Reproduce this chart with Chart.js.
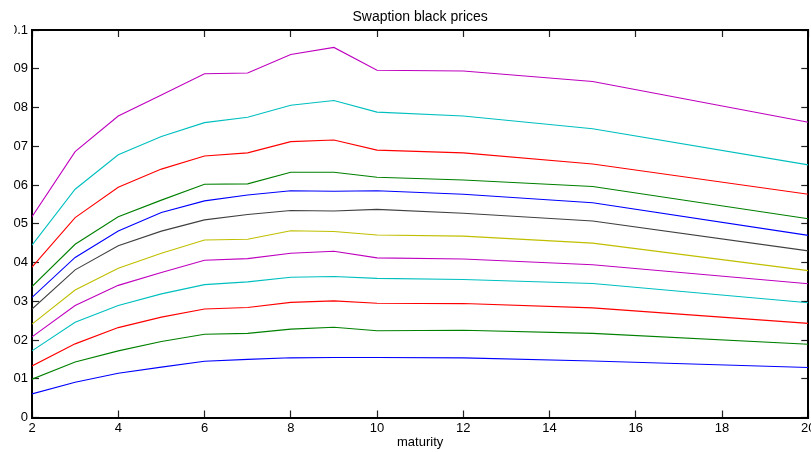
<!DOCTYPE html>
<html>
<head>
<meta charset="utf-8">
<script src="https://cdn.jsdelivr.net/npm/chart.js@4/dist/chart.umd.min.js"></script>
<style>
  html, body { margin: 0; padding: 0; background: #fff; overflow: hidden; width: 811px; height: 452px; }
  #wrap { position: absolute; left: 14px; top: 0; width: 797px; height: 452px; overflow: hidden; }
  #c { position: absolute; left: -34px; top: 0; }
</style>
</head>
<body>
<div id="wrap"><canvas id="c" width="846" height="452" style="width:846px;height:452px"></canvas></div>
<script>
const maturities = [2, 3, 4, 5, 6, 7, 8, 9, 10, 12, 15, 20];
const xTicks = [2, 4, 6, 8, 10, 12, 14, 16, 18, 20];
const yTicks = [0, 0.01, 0.02, 0.03, 0.04, 0.05, 0.06, 0.07, 0.08, 0.09, 0.1];

const s1  = [0.0061, 0.0091, 0.0114, 0.0130, 0.0145, 0.0150, 0.0154, 0.0155, 0.0155, 0.0154, 0.0146, 0.0129];
const s2  = [0.0099, 0.0143, 0.0172, 0.0196, 0.0215, 0.0217, 0.0228, 0.0233, 0.0224, 0.0225, 0.0217, 0.0189];
const s3  = [0.0133, 0.0190, 0.0232, 0.0259, 0.0280, 0.0284, 0.0297, 0.0301, 0.0295, 0.0294, 0.0283, 0.0243];
const s4  = [0.0172, 0.0246, 0.0289, 0.0319, 0.0343, 0.0350, 0.0362, 0.0364, 0.0359, 0.0356, 0.0346, 0.0296];
const s5  = [0.0208, 0.0289, 0.0341, 0.0374, 0.0406, 0.0410, 0.0424, 0.0429, 0.0412, 0.0409, 0.0394, 0.0345];
const s6  = [0.0241, 0.0329, 0.0385, 0.0424, 0.0458, 0.0460, 0.0482, 0.0480, 0.0471, 0.0468, 0.0450, 0.0379];
const s7  = [0.0280, 0.0381, 0.0443, 0.0481, 0.0510, 0.0524, 0.0534, 0.0533, 0.0537, 0.0527, 0.0507, 0.0430];
const s8  = [0.0310, 0.0413, 0.0481, 0.0529, 0.0559, 0.0574, 0.0585, 0.0584, 0.0585, 0.0576, 0.0554, 0.0470];
const s9  = [0.0338, 0.0447, 0.0518, 0.0561, 0.0602, 0.0603, 0.0633, 0.0633, 0.0620, 0.0613, 0.0596, 0.0513];
const s10 = [0.0388, 0.0516, 0.0594, 0.0641, 0.0675, 0.0683, 0.0712, 0.0716, 0.0690, 0.0683, 0.0654, 0.0576];
const s11 = [0.0445, 0.0589, 0.0678, 0.0725, 0.0761, 0.0775, 0.0806, 0.0818, 0.0788, 0.0778, 0.0745, 0.0652];
const s12 = [0.0518, 0.0686, 0.0778, 0.0832, 0.0887, 0.0889, 0.0937, 0.0955, 0.0896, 0.0894, 0.0867, 0.0762];

const seriesList = [s1, s2, s3, s4, s5, s6, s7, s8, s9, s10, s11, s12];
const colors = ['#0000ff', '#008000', '#ff0000', '#00bfbf', '#bf00bf', '#bfbf00', '#404040',
                '#0000ff', '#008000', '#ff0000', '#00bfbf', '#bf00bf'];

Chart.defaults.font.family = '"Liberation Sans", Arial, Helvetica, sans-serif';
Chart.defaults.font.size = 13;
Chart.defaults.color = '#000';

const datasets = seriesList.map((s, i) => ({
  label: 'series ' + (i + 1),
  data: maturities.map((m, j) => ({ x: m, y: s[j] })),
  borderColor: colors[i],
  backgroundColor: colors[i],
  borderWidth: 1.1,
  pointRadius: 0,
  tension: 0,
  fill: false
}));

const TL = -7;
const gridCommon = { drawOnChartArea: false, drawTicks: true, tickLength: TL, tickColor: '#222', tickWidth: 1.2 };
const borderCommon = { display: true, color: '#000', width: 2 };

new Chart(document.getElementById('c'), {
  type: 'line',
  data: { datasets },
  options: {
    responsive: false,
    devicePixelRatio: 1,
    animation: false,
    layout: { padding: { left: 0, right: 10, top: 0, bottom: 0 } },
    plugins: {
      legend: { display: false },
      tooltip: { enabled: false },
      title: {
        display: true,
        text: 'Swaption black prices',
        fullSize: false,
        color: '#000',
        font: { size: 14, weight: 'normal' },
        padding: { top: 8.4, bottom: 4.8 }
      }
    },
    scales: {
      x: {
        type: 'linear', position: 'bottom', min: 2, max: 20,
        afterBuildTicks: (sc) => { sc.ticks = xTicks.map(v => ({ value: v })); },
        ticks: { padding: 10.5, maxRotation: 0, autoSkip: false, font: { size: 13 } },
        grid: gridCommon, border: borderCommon,
        title: { display: true, text: 'maturity', font: { size: 13 }, padding: { top: 0, bottom: 2 } },
        afterFit: (sc) => { sc.height = 34.5; }
      },
      x2: {
        type: 'linear', position: 'top', min: 2, max: 20,
        afterBuildTicks: (sc) => { sc.ticks = xTicks.map(v => ({ value: v })); },
        ticks: { display: false },
        grid: gridCommon, border: borderCommon,
        afterFit: (sc) => { sc.height = 0; }
      },
      y: {
        type: 'linear', position: 'left', min: 0, max: 0.1,
        afterBuildTicks: (sc) => { sc.ticks = yTicks.map(v => ({ value: v })); },
        ticks: {
          padding: 11, autoSkip: false, font: { size: 13 },
          callback: (v) => v === 0 ? '0' : String(Number(v.toFixed(2)))
        },
        grid: gridCommon, border: borderCommon,
        afterFit: (sc) => { sc.width = 52; }
      },
      y2: {
        type: 'linear', position: 'right', min: 0, max: 0.1,
        afterBuildTicks: (sc) => { sc.ticks = yTicks.map(v => ({ value: v })); },
        ticks: { display: false },
        grid: gridCommon, border: borderCommon,
        afterFit: (sc) => { sc.width = 0; }
      }
    }
  }
});
</script>
</body>
</html>
